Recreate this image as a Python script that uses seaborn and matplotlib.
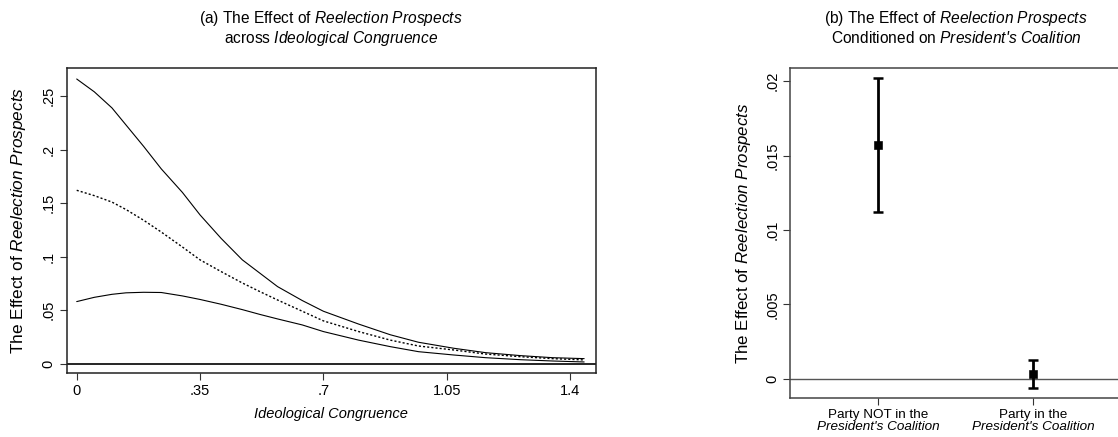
import numpy as np
import pandas as pd
import seaborn as sns
import matplotlib
matplotlib.use("Agg")
import matplotlib.pyplot as plt
from matplotlib.transforms import blended_transform_factory

# Panel (a): marginal effect across ideological congruence
congruence = [0, 0.05, 0.1, 0.14, 0.19, 0.24, 0.30, 0.35, 0.41, 0.47, 0.52, 0.57,
              0.64, 0.7, 0.8, 0.89, 0.97, 1.07, 1.16, 1.26, 1.35, 1.44]
upper_ci = [0.266, 0.254, 0.239, 0.223, 0.203, 0.182, 0.160, 0.139, 0.117, 0.097, 0.0845, 0.072,
            0.059, 0.049, 0.037, 0.027, 0.020, 0.0144, 0.0103, 0.0075, 0.0056, 0.0047]
effect = [0.162, 0.157, 0.151, 0.144, 0.134, 0.123, 0.109, 0.097, 0.086, 0.0754, 0.0673, 0.0595,
          0.049, 0.040, 0.030, 0.022, 0.0165, 0.0128, 0.009, 0.0065, 0.0047, 0.0035]
lower_ci = [0.058, 0.062, 0.0648, 0.0662, 0.0667, 0.0665, 0.0633, 0.060, 0.0555, 0.0505, 0.046, 0.0418,
            0.0362, 0.030, 0.022, 0.0159, 0.0112, 0.0081, 0.0056, 0.0037, 0.0025, 0.0016]
xticks_a = [0, 0.35, 0.7, 1.05, 1.4]
xticklabels_a = ["0", ".35", ".7", "1.05", "1.4"]
yticks_a = [0, 0.05, 0.1, 0.15, 0.2, 0.25]
yticklabels_a = ["0", ".05", ".1", ".15", ".2", ".25"]

# Panel (b): effect conditioned on president's coalition
coalition = ["Party NOT in the", "Party in the"]
coalition_line2 = ["President's Coalition", "President's Coalition"]
coal_effect = [0.01572, 0.0003]
coal_low = [0.01123, -0.0006]
coal_high = [0.02024, 0.00124]
yticks_b = [0, 0.005, 0.01, 0.015, 0.02]
yticklabels_b = ["0", ".005", ".01", ".015", ".02"]

sns.set_theme(style="ticks")
plt.rcParams["font.family"] = ["Liberation Sans", "DejaVu Sans"]
plt.rcParams["mathtext.fontset"] = "custom"
plt.rcParams["mathtext.rm"] = "Liberation Sans"
plt.rcParams["mathtext.it"] = "Liberation Sans:italic"
for key in ["text.color", "axes.labelcolor", "xtick.color", "ytick.color"]:
    plt.rcParams[key] = "black"

fig = plt.figure(figsize=(11.18, 4.37), dpi=100)
W, H = 1118, 437
ax1 = fig.add_axes([66.7 / W, 1 - 373.3 / H, (596 - 66.7) / W, (373.3 - 68.3) / H])
ax2 = fig.add_axes([790.3 / W, 1 - 397.7 / H, (1121 - 790.3) / W, (397.7 - 68.3) / H])

# ---- panel a
df_a = pd.DataFrame({"x": congruence, "upper": upper_ci, "effect": effect, "lower": lower_ci})
sns.lineplot(data=df_a, x="x", y="upper", ax=ax1, color="black", lw=0.8)
sns.lineplot(data=df_a, x="x", y="lower", ax=ax1, color="black", lw=0.8)
sns.lineplot(data=df_a, x="x", y="effect", ax=ax1, color="black", lw=1.0,
             linestyle=(0, (1.5, 1.5)))
ax1.axhline(0, color="black", lw=1.2, zorder=0)
ax1.set_xlim(-0.0284, 1.4736)
ax1.set_ylim(-0.009, 0.276)
ax1.set_xticks(xticks_a, xticklabels_a)
ax1.set_yticks(yticks_a, yticklabels_a)
ax1.set_xlabel("Ideological Congruence", fontsize=10.5, style="italic", labelpad=6)
ax1.set_ylabel(r"The Effect of $\mathit{Reelection\ Prospects}$", fontsize=12.4, labelpad=10)

# ---- panel b
xpos = np.arange(len(coalition))
yerr = [np.array(coal_effect) - np.array(coal_low), np.array(coal_high) - np.array(coal_effect)]
ax2.axhline(0, color="#555555", lw=1.0, zorder=0)
ax2.errorbar(xpos, coal_effect, yerr=yerr, fmt="none", ecolor="black",
             elinewidth=2.0, capsize=3.5, capthick=1.8)
sns.scatterplot(x=xpos, y=coal_effect, ax=ax2, marker="s", s=30, color="black",
                edgecolor="black", zorder=3)
ax2.set_xlim(-0.568, 1.566)
ax2.set_ylim(-0.00128, 0.02087)
ax2.set_xticks(xpos, coalition)
ax2.set_yticks(yticks_b, yticklabels_b)
ax2.set_ylabel(r"The Effect of $\mathit{Reelection\ Prospects}$", fontsize=12.2, labelpad=9)
trans = blended_transform_factory(ax2.transData, ax2.transAxes)
for xp, lab in zip(xpos, coalition_line2):
    ax2.text(xp, -0.089, lab, transform=trans, ha="center", va="center",
             fontsize=9.7, style="italic")

for ax, col in [(ax1, "#222222"), (ax2, "#444444")]:
    for sp in ax.spines.values():
        sp.set_color(col)
        sp.set_linewidth(1.1)
    ax.tick_params(axis="both", direction="out", length=5, width=0.8, color="#333333",
                   labelsize=10.5, pad=3)
    for lab in ax.get_yticklabels():
        lab.set_rotation(90)
        lab.set_va("center")

ax2.tick_params(axis="x", labelsize=9.7, pad=3)

# titles with mixed italics
fig.text(331 / W, 1 - 18 / H, r"(a) The Effect of $\mathit{Reelection\ Prospects}$",
         ha="center", va="center", fontsize=11.2)
fig.text(331 / W, 1 - 38 / H, r"across $\mathit{Ideological\ Congruence}$",
         ha="center", va="center", fontsize=11.2)
fig.text(956 / W, 1 - 18 / H, r"(b) The Effect of $\mathit{Reelection\ Prospects}$",
         ha="center", va="center", fontsize=11.2)
fig.text(956 / W, 1 - 38 / H, r"$\mathrm{Conditioned\ on}$ President's Coalition",
         ha="center", va="center", fontsize=11.2, style="italic")

fig.savefig("out.png", dpi=100)
